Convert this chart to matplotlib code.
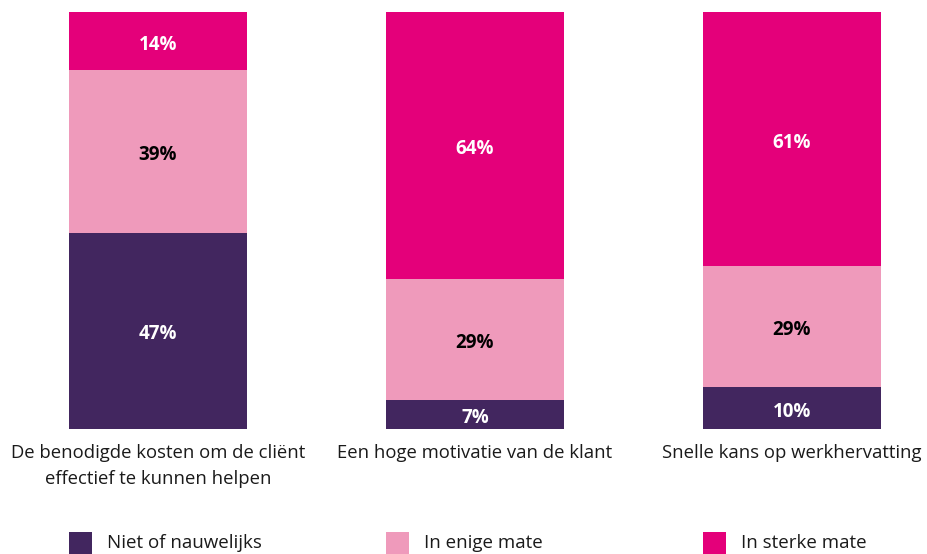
import matplotlib
matplotlib.use("Agg")
import matplotlib.pyplot as plt
import matplotlib.transforms as mtransforms
from matplotlib.patches import Rectangle
import numpy as np

plt.rcParams['font.family'] = ['Open Sans', 'DejaVu Sans']

categories = ["De benodigde kosten om de cliënt\neffectief te kunnen helpen",
              "Een hoge motivatie van de klant",
              "Snelle kans op werkhervatting"]
series_names = ["Niet of nauwelijks", "In enige mate", "In sterke mate"]
niet = [47, 7, 10]
enige = [39, 29, 29]
sterke = [14, 64, 61]

colors = ["#42265f", "#ef9abb", "#e4007a"]
text_colors = ["white", "black", "white"]

fig = plt.figure(figsize=(9.27, 5.54), dpi=100)
ax = fig.add_axes([0, 125 / 554, 1, 417 / 554])

x = np.arange(len(categories))
width = 178 / 317
bottom = np.zeros(len(categories))
for vals, col, tcol in zip([niet, enige, sterke], colors, text_colors):
    bars = ax.bar(x, vals, width, bottom=bottom, color=col, linewidth=0)
    for b, v in zip(bars, vals):
        ax.annotate(f"{v}%", (b.get_x() + b.get_width() / 2, b.get_y() + v / 2),
                    xytext=(0, -2.5), textcoords="offset points",
                    ha="center", va="center", color=tcol, fontsize=13.5,
                    fontweight="bold")
    bottom += vals

ax.set_xlim(-158 / 317, (927 - 158) / 317)
ax.set_ylim(0, 100)
ax.axis("off")

# category labels under the bars
trans = mtransforms.blended_transform_factory(ax.transData, fig.transFigure)
for xi, cat in zip(x, categories):
    ax.text(xi, 1 - 444 / 554, cat, transform=trans, ha="center", va="top",
            fontsize=13.3, color="#1a1a1a", linespacing=1.6)

# legend
for xi, name, col in zip(x, series_names, colors):
    left = xi - width / 2
    ax.add_patch(Rectangle((left, 0), 23 / 317, 22 / 554, transform=trans,
                           color=col, clip_on=False, linewidth=0))
    ax.text(left + 38 / 317, 1 - 543 / 554, name, transform=trans,
            ha="left", va="center", fontsize=13.5, color="#1a1a1a")

fig.savefig("out.png", dpi=100)
